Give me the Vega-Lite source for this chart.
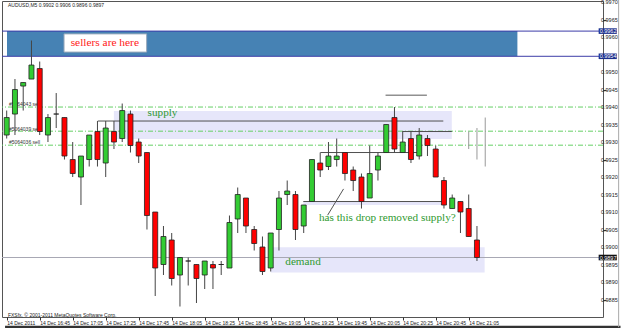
{
"$schema":"https://vega.github.io/schema/vega-lite/v6.json",
"width":601,"height":316,
"autosize":{"type":"none"},
"padding":{"left":2,"top":1,"right":22,"bottom":11},
"background":"white",
"config":{"view":{"stroke":"#555","strokeWidth":1},"axis":{"grid":false,"title":null}},
"datasets":{
"candles":[
{"b":1,"o":0.9932,"h":0.9939,"l":0.9931,"c":0.9937},
{"b":2,"o":0.9938,"h":0.9948,"l":0.9932,"c":0.9945},
{"b":3,"o":0.9946,"h":0.9947,"l":0.9939,"c":0.9947},
{"b":4,"o":0.9948,"h":0.9959,"l":0.9948,"c":0.9952},
{"b":5,"o":0.9951,"h":0.9953,"l":0.9932,"c":0.9933},
{"b":6,"o":0.9932,"h":0.9938,"l":0.9930,"c":0.9937},
{"b":7,"o":0.9938,"h":0.9944,"l":0.9934,"c":0.9938},
{"b":8,"o":0.9937,"h":0.9937,"l":0.9925,"c":0.9926},
{"b":9,"o":0.9925,"h":0.9930,"l":0.9920,"c":0.9921},
{"b":10,"o":0.9920,"h":0.9926,"l":0.9912,"c":0.9926},
{"b":11,"o":0.9925,"h":0.9932,"l":0.9923,"c":0.9932},
{"b":12,"o":0.9933,"h":0.9936,"l":0.9923,"c":0.9925},
{"b":13,"o":0.9924,"h":0.9936,"l":0.9920,"c":0.9934},
{"b":14,"o":0.9933,"h":0.9936,"l":0.9928,"c":0.9930},
{"b":15,"o":0.9931,"h":0.9941,"l":0.9930,"c":0.9939},
{"b":16,"o":0.9938,"h":0.9939,"l":0.9927,"c":0.9929},
{"b":17,"o":0.9930,"h":0.9931,"l":0.9924,"c":0.9926},
{"b":18,"o":0.9927,"h":0.9927,"l":0.9905,"c":0.9909},
{"b":19,"o":0.9910,"h":0.9910,"l":0.9886,"c":0.9894},
{"b":20,"o":0.9895,"h":0.9906,"l":0.9892,"c":0.9903},
{"b":21,"o":0.9902,"h":0.9904,"l":0.9889,"c":0.9891},
{"b":22,"o":0.9892,"h":0.9897,"l":0.9883,"c":0.9897},
{"b":23,"o":0.9896,"h":0.9897,"l":0.9889,"c":0.9896},
{"b":24,"o":0.9895,"h":0.9895,"l":0.9884,"c":0.9891},
{"b":25,"o":0.9892,"h":0.9896,"l":0.9888,"c":0.9896},
{"b":26,"o":0.9895,"h":0.9896,"l":0.9888,"c":0.9894},
{"b":27,"o":0.9895,"h":0.9896,"l":0.9892,"c":0.9895},
{"b":28,"o":0.9894,"h":0.9909,"l":0.9894,"c":0.9907},
{"b":29,"o":0.9908,"h":0.9917,"l":0.9904,"c":0.9915},
{"b":30,"o":0.9914,"h":0.9914,"l":0.9904,"c":0.9906},
{"b":31,"o":0.9905,"h":0.9906,"l":0.9899,"c":0.9901},
{"b":32,"o":0.9900,"h":0.9903,"l":0.9892,"c":0.9893},
{"b":33,"o":0.9894,"h":0.9904,"l":0.9893,"c":0.9904},
{"b":34,"o":0.9905,"h":0.9916,"l":0.9899,"c":0.9914},
{"b":35,"o":0.9915,"h":0.9919,"l":0.9912,"c":0.9916},
{"b":36,"o":0.9915,"h":0.9916,"l":0.9902,"c":0.9905},
{"b":37,"o":0.9906,"h":0.9912,"l":0.9904,"c":0.9912},
{"b":38,"o":0.9913,"h":0.9925,"l":0.9913,"c":0.9925},
{"b":39,"o":0.9924,"h":0.9927,"l":0.9920,"c":0.9922},
{"b":40,"o":0.9923,"h":0.9930,"l":0.9922,"c":0.9926},
{"b":41,"o":0.9925,"h":0.9931,"l":0.9923,"c":0.9926},
{"b":42,"o":0.9927,"h":0.9927,"l":0.9919,"c":0.9921},
{"b":43,"o":0.9922,"h":0.9923,"l":0.9916,"c":0.9919},
{"b":44,"o":0.9920,"h":0.9921,"l":0.9911,"c":0.9913},
{"b":45,"o":0.9914,"h":0.9929,"l":0.9914,"c":0.9921},
{"b":46,"o":0.9922,"h":0.9927,"l":0.9919,"c":0.9926},
{"b":47,"o":0.9927,"h":0.9935,"l":0.9927,"c":0.9935},
{"b":48,"o":0.9937,"h":0.9940,"l":0.9927,"c":0.9928},
{"b":49,"o":0.9927,"h":0.9933,"l":0.9927,"c":0.9930},
{"b":50,"o":0.9931,"h":0.9933,"l":0.9924,"c":0.9925},
{"b":51,"o":0.9926,"h":0.9934,"l":0.9925,"c":0.9932},
{"b":52,"o":0.9931,"h":0.9932,"l":0.9926,"c":0.9929},
{"b":53,"o":0.9928,"h":0.9929,"l":0.9920,"c":0.9920},
{"b":54,"o":0.9919,"h":0.9920,"l":0.9911,"c":0.9912},
{"b":55,"o":0.9911,"h":0.9915,"l":0.9911,"c":0.9914},
{"b":56,"o":0.9913,"h":0.9913,"l":0.9904,"c":0.9910},
{"b":57,"o":0.9911,"h":0.9915,"l":0.9903,"c":0.9903},
{"b":58,"o":0.9902,"h":0.9906,"l":0.9896,"c":0.9897}
],
"yLabels":[
{"b":73.03,"p":0.9885,"t":"0.9885"},{"b":73.03,"p":0.989,"t":"0.9890"},{"b":73.03,"p":0.9895,"t":"0.9895"},{"b":73.03,"p":0.99,"t":"0.9900"},
{"b":73.03,"p":0.9905,"t":"0.9905"},{"b":73.03,"p":0.991,"t":"0.9910"},{"b":73.03,"p":0.9915,"t":"0.9915"},{"b":73.03,"p":0.992,"t":"0.9920"},
{"b":73.03,"p":0.9925,"t":"0.9925"},{"b":73.03,"p":0.993,"t":"0.9930"},{"b":73.03,"p":0.9935,"t":"0.9935"},{"b":73.03,"p":0.994,"t":"0.9940"},
{"b":73.03,"p":0.9945,"t":"0.9945"},{"b":73.03,"p":0.995,"t":"0.9950"},{"b":73.03,"p":0.996,"t":"0.9960"},
{"b":73.03,"p":0.9965,"t":"0.9965"},{"b":73.03,"p":0.997,"t":"0.9970"}
],
"blueZone":[{"b":1.036,"b2":62.9,"p":0.99617,"p2":0.99545}],
"blueLines":[{"p":0.99617},{"p":0.99545}],
"lavZones":[{"b":13.99,"b2":54.95,"p":0.99389,"p2":0.99309},{"b":33.0,"b2":58.93,"p":0.98999,"p2":0.98927},{"b":36.95,"b2":53.96,"p":0.99131,"p2":0.99120}],
"greenLines":[{"p":0.9940},{"p":0.99331},{"p":0.99291}],
"priceLine":[{"p":0.9897}],
"blackLines":[{"b":12.04,"b2":53.92,"p":0.9936},{"b":48.95,"b2":54.95,"p":0.9933},{"b":39.02,"b2":50.94,"p":0.9927},{"b":36.95,"b2":53.96,"p":0.9913}],
"greyLine":[{"b":46.92,"b2":51.93,"p":0.99434}],
"greyVert":[{"b":57,"p":0.9933,"p2":0.9928},{"b":58,"p":0.9934,"p2":0.9925},{"b":59,"p":0.9937,"p2":0.9923}],
"orderLabels":[{"b":1.27,"p":0.9941,"t":"#5064043 sell"},{"b":1.27,"p":0.99337,"t":"#5064039 sell"},{"b":1.27,"p":0.99299,"t":"#5064036 sell"}],
"sellBox":[{"b":7.95,"b2":17.96,"p":0.99609,"p2":0.99557}],
"sellText":[{"b":8.75,"p":0.99573,"t":"sellers are here"}],
"greenText":[{"b":18.08,"p":0.99373,"t":"supply"},{"b":34.77,"p":0.98949,"t":"demand"},{"b":38.85,"p":0.99075,"t":"has this drop removed supply?"}],
"diag":[{"b":39.9,"p":0.99091,"b2":41.83,"p2":0.99166}],
"infoText":[{"b":1.15,"p":0.99691,"t":"AUDUSD,M5  0.9902 0.9906 0.9896 0.9897"},{"b":1.15,"p":0.98807,"t":"FXSfx, © 2001-2011 MetaQuotes Software Corp."}],
"blueTags":[{"b":72.75,"b2":74.95,"p":0.99625,"p2":0.99609,"q":0.99617,"t":"0.9962"},{"b":72.75,"b2":74.95,"p":0.99553,"p2":0.99537,"q":0.99545,"t":"0.9954"}],
"blackTags":[{"b":72.75,"b2":74.95,"p":0.98978,"p2":0.98962,"q":0.9897,"t":"0.9897"}],
"frameBottom":[{"b":0.8,"b2":75.4,"p":0.98771}],
"frameRight":[{"b":75.17,"p":0.99706,"p2":0.98771}]
},
"layer":[
{"data":{"name":"candles"},"mark":{"type":"rule","color":"#444","strokeWidth":1,"opacity":0},
 "encoding":{"x":{"field":"b","type":"quantitative","scale":{"domain":[1.036,72.67],"zero":false,"nice":false},
   "axis":{"orient":"bottom","title":null,"values":[1,5,9,13,17,21,25,29,33,37,41,45,49,53,57],
   "labelExpr":"['14 Dec 2011','14 Dec 16:45','14 Dec 17:05','14 Dec 17:25','14 Dec 17:45','14 Dec 18:05','14 Dec 18:25','14 Dec 18:45','14 Dec 19:05','14 Dec 19:25','14 Dec 19:45','14 Dec 20:05','14 Dec 20:25','14 Dec 20:45','14 Dec 21:05'][(datum.value-1)/4]",
   "labelAlign":"left","labelDx":1,"labelFont":"Liberation Sans","labelFontSize":5,"labelColor":"#222","tickSize":3,"tickColor":"#333","domain":false,"labelPadding":0,"labelOverlap":false,"labelFlush":false,"labelBound":false}},
  "y":{"field":"l","type":"quantitative","scale":{"domain":[0.988,0.99703],"zero":false,"nice":false},
   "axis":{"orient":"right","title":null,"values":[0.9885,0.989,0.9895,0.99,0.9905,0.991,0.9915,0.992,0.9925,0.993,0.9935,0.994,0.9945,0.995,0.9955,0.996,0.9965,0.997],
   "labels":false,"tickSize":3,"tickColor":"#333","domain":false}},
  "y2":{"field":"h"}}},
{"data":{"name":"yLabels"},"mark":{"type":"text","font":"Liberation Sans","fontSize":5.5,"color":"#222","align":"left","baseline":"middle"},
 "encoding":{"x":{"field":"b","type":"quantitative"},
 "y":{"field":"p","type":"quantitative"},"text":{"field":"t"}}},
{"data":{"name":"blueZone"},"mark":{"type":"rect","fill":"#4682b4"},
 "encoding":{"x":{"field":"b","type":"quantitative"},"x2":{"field":"b2"},
 "y":{"field":"p","type":"quantitative"},"y2":{"field":"p2"}}},
{"data":{"name":"blueLines"},"mark":{"type":"rule","color":"#3c3ca8","strokeWidth":1},
 "encoding":{"y":{"field":"p","type":"quantitative"}}},
{"data":{"name":"lavZones"},"mark":{"type":"rect","fill":"#e6e6fa"},
 "encoding":{"x":{"field":"b","type":"quantitative"},"x2":{"field":"b2"},
 "y":{"field":"p","type":"quantitative"},"y2":{"field":"p2"}}},
{"data":{"name":"greenLines"},"mark":{"type":"rule","color":"#66d066","strokeWidth":1,"strokeDash":[5,2,1,2]},
 "encoding":{"y":{"field":"p","type":"quantitative"}}},
{"data":{"name":"priceLine"},"mark":{"type":"rule","color":"#a8a8b4","strokeWidth":1},
 "encoding":{"y":{"field":"p","type":"quantitative"}}},
{"data":{"name":"blackLines"},"mark":{"type":"rule","color":"#505050","strokeWidth":1},
 "encoding":{"x":{"field":"b","type":"quantitative"},"x2":{"field":"b2"},
 "y":{"field":"p","type":"quantitative"}}},
{"data":{"name":"greyLine"},"mark":{"type":"rule","color":"#909090","strokeWidth":1.5},
 "encoding":{"x":{"field":"b","type":"quantitative"},"x2":{"field":"b2"},
 "y":{"field":"p","type":"quantitative"}}},
{"data":{"name":"orderLabels"},"mark":{"type":"text","font":"Liberation Sans","fontSize":5,"color":"#333","align":"left","baseline":"middle"},
 "encoding":{"x":{"field":"b","type":"quantitative"},
 "y":{"field":"p","type":"quantitative"},"text":{"field":"t"}}},
{"data":{"name":"candles"},"mark":{"type":"rule","color":"#444","strokeWidth":1},
 "encoding":{"x":{"field":"b","type":"quantitative"},
 "y":{"field":"l","type":"quantitative"},"y2":{"field":"h"}}},
{"data":{"name":"candles"},"mark":{"type":"bar","size":5,"stroke":"#222","strokeWidth":0.8},
 "encoding":{"x":{"field":"b","type":"quantitative"},
 "y":{"field":"o","type":"quantitative"},"y2":{"field":"c"},
 "fill":{"condition":{"test":"datum.c >= datum.o","value":"#33cc33"},"value":"#ff0000"}}},
{"data":{"name":"greyVert"},"mark":{"type":"rule","color":"#999","strokeWidth":1},
 "encoding":{"x":{"field":"b","type":"quantitative"},
 "y":{"field":"p","type":"quantitative"},"y2":{"field":"p2"}}},
{"data":{"name":"sellBox"},"mark":{"type":"rect","fill":"white","stroke":"#9aaabb","strokeWidth":1},
 "encoding":{"x":{"field":"b","type":"quantitative"},"x2":{"field":"b2"},
 "y":{"field":"p","type":"quantitative"},"y2":{"field":"p2"}}},
{"data":{"name":"sellText"},"mark":{"type":"text","font":"Liberation Serif","fontSize":11.4,"color":"#ff2020","align":"left","baseline":"alphabetic"},
 "encoding":{"x":{"field":"b","type":"quantitative"},
 "y":{"field":"p","type":"quantitative"},"text":{"field":"t"}}},
{"data":{"name":"greenText"},"mark":{"type":"text","font":"Liberation Serif","fontSize":11.2,"color":"#2f9a2f","align":"left","baseline":"alphabetic"},
 "encoding":{"x":{"field":"b","type":"quantitative"},
 "y":{"field":"p","type":"quantitative"},"text":{"field":"t"}}},
{"data":{"name":"diag"},"mark":{"type":"rule","color":"#555","strokeWidth":1},
 "encoding":{"x":{"field":"b","type":"quantitative"},"x2":{"field":"b2"},
 "y":{"field":"p","type":"quantitative"},"y2":{"field":"p2"}}},
{"data":{"name":"infoText"},"mark":{"type":"text","font":"Liberation Sans","fontSize":5,"color":"#222","align":"left","baseline":"middle"},
 "encoding":{"x":{"field":"b","type":"quantitative"},
 "y":{"field":"p","type":"quantitative"},"text":{"field":"t"}}},
{"data":{"name":"blueTags"},"mark":{"type":"rect","fill":"#1c2f8c"},
 "encoding":{"x":{"field":"b","type":"quantitative"},"x2":{"field":"b2"},
 "y":{"field":"p","type":"quantitative"},"y2":{"field":"p2"}}},
{"data":{"name":"blackTags"},"mark":{"type":"rect","fill":"#111"},
 "encoding":{"x":{"field":"b","type":"quantitative"},"x2":{"field":"b2"},
 "y":{"field":"p","type":"quantitative"},"y2":{"field":"p2"}}},
{"data":{"name":"blueTags"},"mark":{"type":"text","font":"Liberation Sans","fontSize":5.5,"color":"white","align":"left","baseline":"middle","dx":1},
 "encoding":{"x":{"field":"b","type":"quantitative"},
 "y":{"field":"q","type":"quantitative"},"text":{"field":"t"}}},
{"data":{"name":"blackTags"},"mark":{"type":"text","font":"Liberation Sans","fontSize":5.5,"color":"white","align":"left","baseline":"middle","dx":1},
 "encoding":{"x":{"field":"b","type":"quantitative"},
 "y":{"field":"q","type":"quantitative"},"text":{"field":"t"}}},
{"data":{"name":"frameBottom"},"mark":{"type":"rule","color":"#333","strokeWidth":3},
 "encoding":{"x":{"field":"b","type":"quantitative"},"x2":{"field":"b2"},
 "y":{"field":"p","type":"quantitative"}}},
{"data":{"name":"frameRight"},"mark":{"type":"rule","color":"#aaa","strokeWidth":1},
 "encoding":{"x":{"field":"b","type":"quantitative"},
 "y":{"field":"p","type":"quantitative"},"y2":{"field":"p2"}}}
]
}
